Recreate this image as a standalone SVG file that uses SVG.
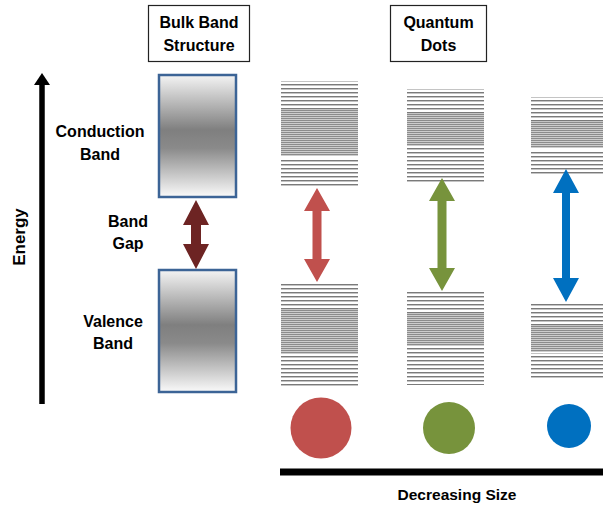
<svg xmlns="http://www.w3.org/2000/svg" width="603" height="507" viewBox="0 0 603 507">
<style>
.t{font-family:"Liberation Sans",Arial,sans-serif;font-weight:bold;font-size:16px;fill:#000;text-anchor:middle}
.title{fill:#fff;stroke:#222;stroke-width:1.2}
.bulk{stroke:#3c6496;stroke-width:2.5;fill:url(#bandGrad)}
.sp{fill:url(#sparse)}
.dn{fill:url(#dense)}
</style>
<defs>
<linearGradient id="bandGrad" x1="0" y1="0" x2="0" y2="1">
<stop offset="0" stop-color="#f4f4f4"/>
<stop offset="0.45" stop-color="#7f7f7f"/>
<stop offset="0.6" stop-color="#8a8a8a"/>
<stop offset="1" stop-color="#fafafa"/>
</linearGradient>
<pattern id="sparse" patternUnits="userSpaceOnUse" x="0" y="0" width="10" height="4">
<rect x="0" y="0" width="10" height="1" fill="#7a7a7a"/>
<rect x="0" y="1" width="10" height="1" fill="#c4c4c4"/>
</pattern>
<pattern id="dense" patternUnits="userSpaceOnUse" x="0" y="0" width="10" height="2">
<rect x="0" y="0" width="10" height="1" fill="#8c8c8c"/>
<rect x="0" y="1" width="10" height="1" fill="#cdcdcd"/>
</pattern>
</defs>
<rect width="603" height="507" fill="#fff"/>

<g id="title-bulk">
<rect class="title" x="148.5" y="5.5" width="101" height="56"/>
<text class="t" x="199" y="28">Bulk Band</text>
<text class="t" x="199" y="51">Structure</text>
</g>
<g id="title-qd">
<rect class="title" x="390.5" y="5.5" width="96" height="56"/>
<text class="t" x="438.5" y="28">Quantum</text>
<text class="t" x="438.5" y="51">Dots</text>
</g>

<g id="energy-axis">
<line x1="42" y1="404" x2="42" y2="82" stroke="#000" stroke-width="5.5"/>
<polygon points="42,73 50,85 34,85" fill="#000"/>
<text class="t" transform="translate(25,237) rotate(-90)" style="font-size:17px">Energy</text>
</g>

<g id="labels">
<text class="t" x="100" y="137">Conduction</text>
<text class="t" x="100" y="160">Band</text>
<text class="t" x="128" y="227">Band</text>
<text class="t" x="128" y="249">Gap</text>
<text class="t" x="113" y="327">Valence</text>
<text class="t" x="113" y="349">Band</text>
</g>

<g id="bulk-conduction">
<rect class="bulk" x="159" y="75" width="77" height="122"/>
</g>
<g id="bulk-valence">
<rect class="bulk" x="159" y="270" width="77" height="122"/>
</g>

<g id="qd1-levels">
<rect class="sp" x="281" y="81" width="77" height="29"/>
<rect class="dn" x="281" y="110" width="77" height="46"/>
<rect class="sp" x="281" y="158" width="77" height="28"/>
<rect class="sp" x="281" y="282" width="77" height="28"/>
<rect class="dn" x="281" y="310" width="77" height="44"/>
<rect class="sp" x="281" y="356" width="77" height="31"/>
</g>
<g id="qd2-levels">
<rect class="sp" x="407" y="89" width="77" height="25"/>
<rect class="dn" x="407" y="114" width="77" height="32"/>
<rect class="sp" x="407" y="148" width="77" height="34"/>
<rect class="sp" x="407" y="290" width="77" height="24"/>
<rect class="dn" x="407" y="314" width="77" height="32"/>
<rect class="sp" x="407" y="348" width="77" height="37"/>
</g>
<g id="qd3-levels">
<rect class="sp" x="531" y="97" width="72" height="25"/>
<rect class="dn" x="531" y="122" width="72" height="26"/>
<rect class="sp" x="531" y="150" width="72" height="24"/>
<rect class="sp" x="531" y="302" width="72" height="25"/>
<rect class="dn" x="531" y="326" width="72" height="26"/>
<rect class="sp" x="531" y="353" width="72" height="26"/>
</g>

<g id="dots">
<circle id="dot-red" cx="321" cy="428" r="30.5" fill="#c0504d"/>
<circle id="dot-green" cx="449" cy="428" r="26" fill="#77933c"/>
<circle id="dot-blue" cx="569" cy="426" r="22" fill="#0070c0"/>
</g>

<g id="connectors">
<polygon id="gap-bulk" fill="#6d2423" points="196,200 209,225 201,225 201,244 209,244 196,269 183,244 191,244 191,225 183,225"/>
<polygon id="gap-red" fill="#c0504d" points="317,188 330,211 321.5,211 321.5,259 330,259 317,282 304,259 312.5,259 312.5,211 304,211"/>
<polygon id="gap-green" fill="#77933c" points="442,178 455,201 446.5,201 446.5,268 455,268 442,291 429,268 437.5,268 437.5,201 429,201"/>
<polygon id="gap-blue" fill="#0070c0" points="566,169 579,193 570,193 570,278 579,278 566,302 553,278 562,278 562,193 553,193"/>
</g>

<g id="size-axis">
<line x1="280" y1="472" x2="603" y2="472" stroke="#000" stroke-width="7"/>
<text class="t" x="457" y="500" style="font-size:15.5px">Decreasing Size</text>
</g>
</svg>
